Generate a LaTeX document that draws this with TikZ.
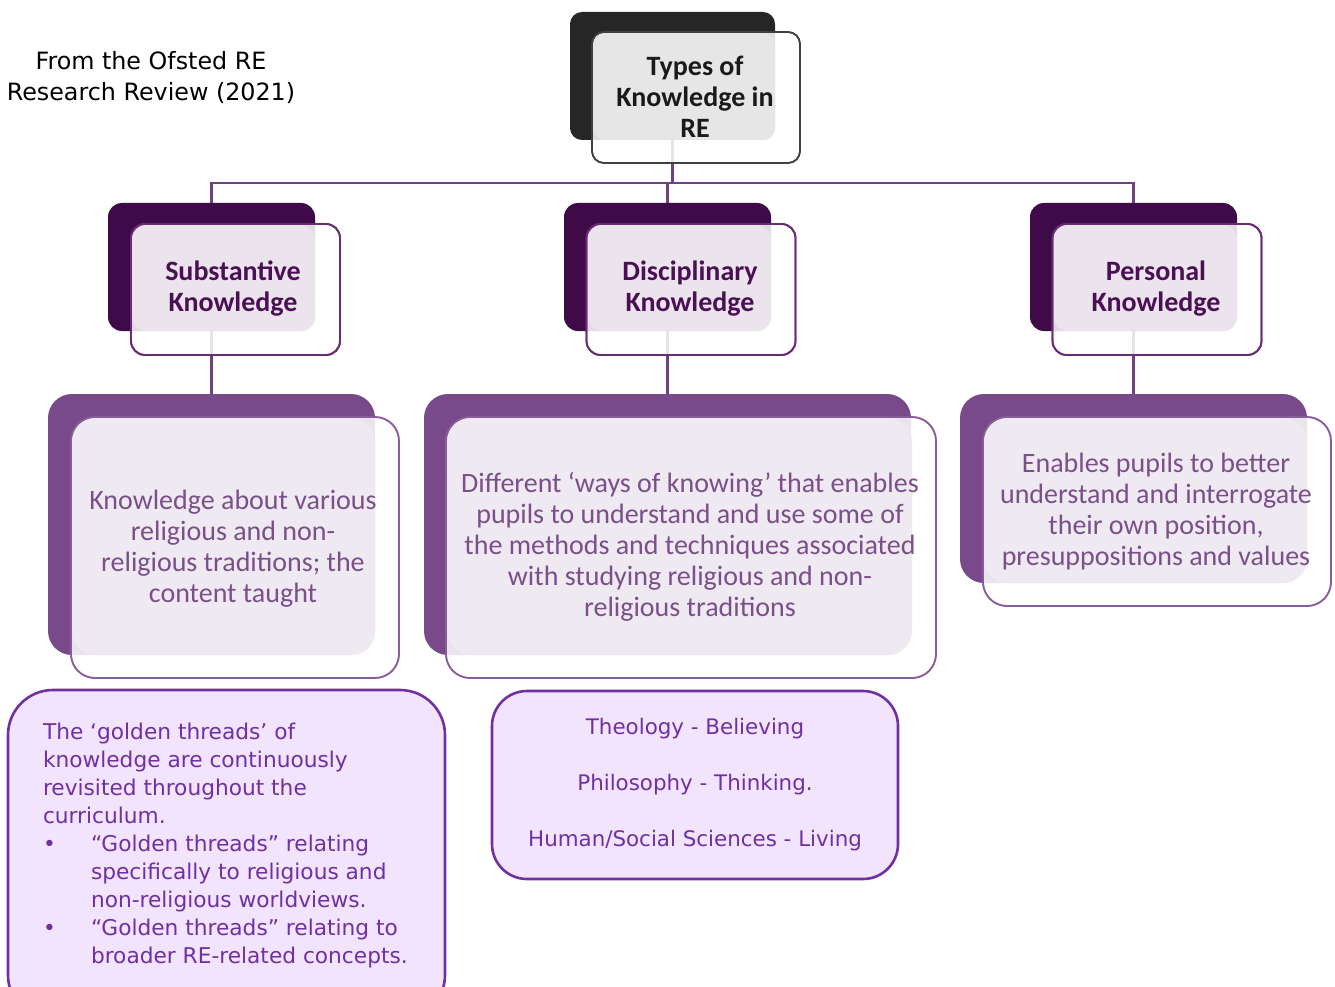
\documentclass[tikz,border=0pt]{standalone}
\usepackage{fontspec}
\setmainfont{Carlito}
\newfontfamily\tah{DejaVu Sans}
\definecolor{topdark}{HTML}{262626}
\definecolor{topgrey}{HTML}{E6E6E6}
\definecolor{topline}{HTML}{404040}
\definecolor{toptxt}{HTML}{1A1A1A}
\definecolor{ldark}{HTML}{3E0A47}
\definecolor{lfill}{HTML}{EBE4EC}
\definecolor{lline}{HTML}{6A2A74}
\definecolor{ltxt}{HTML}{4B0F55}
\definecolor{ddark}{HTML}{784A8A}
\definecolor{dfill}{HTML}{EFE9F2}
\definecolor{dline}{HTML}{8B5C9C}
\definecolor{dtxt}{HTML}{7A4F8A}
\definecolor{conncol}{HTML}{71407F}
\definecolor{bfill}{HTML}{F2E4FD}
\definecolor{bline}{HTML}{7030A0}
\pgfdeclarelayer{bg}
\pgfdeclarelayer{conns}
\pgfsetlayers{bg,conns,main}
\begin{document}
\begin{tikzpicture}[x=1pt,y=-1pt,
  every node/.style={inner sep=0pt, outer sep=0pt},
  conn/.style={draw=conncol, line width=2.8pt},
  topback/.style={fill=topdark, rounded corners=12pt},
  topfillbox/.style={fill=topgrey, rounded corners=12pt},
  topout/.style={draw=topline, line width=1.6pt, fill=white, fill opacity=0.85, draw opacity=1, rounded corners=12pt},
  ltwoback/.style={fill=ldark, rounded corners=14pt},
  ltwofill/.style={fill=lfill, rounded corners=14pt},
  ltwoout/.style={draw=lline, line width=1.8pt, fill=white, fill opacity=0.85, draw opacity=1, rounded corners=14pt},
  lthreeback/.style={fill=ddark, rounded corners=24pt},
  lthreefill/.style={fill=dfill, rounded corners=24pt},
  lthreeout/.style={draw=dline, line width=1.6pt, fill=white, fill opacity=0.85, draw opacity=1, rounded corners=24pt},
  toptext/.style={font=\fontsize{28}{31}\selectfont\bfseries, text=toptxt, align=center},
  ltwotext/.style={font=\fontsize{28}{31}\selectfont\bfseries, text=ltxt, align=center},
  lthreetext/.style={font=\fontsize{28}{31}\selectfont, text=dtxt, align=center},
  bottombox/.style={draw=bline, line width=2.6pt, fill=bfill},
  bottomtext/.style={font=\tah\fontsize{21.7}{28}\selectfont, text=bline}
]
\useasboundingbox (0,0) rectangle (1335,987);
\begin{pgfonlayer}{bg}
\fill[white] (0,0) rectangle (1335,987);
\end{pgfonlayer}

% title
\node[font=\tah\fontsize{23.8}{31}\selectfont, align=center] (title) at (151,78) {From the Ofsted RE\\Research Review (2021)};

% ---------- top box ----------
\node[topback, minimum width=205pt, minimum height=128pt] (tb) at (672.5,76) {};
\node[topout, minimum width=208pt, minimum height=131pt] (to) at (696,97.5) {};
\node[topfillbox, minimum width=182pt, minimum height=107pt] (tf) at (684,86.5) {};
\node[topout, fill=none, minimum width=208pt, minimum height=131pt] (to2) at (696,97.5) {};
\node[toptext] (tt) at (695,96.5) {Types of\\Knowledge in\\RE};

% ---------- level 2 ----------
\node[ltwoback, minimum width=207pt, minimum height=128pt] (sb) at (211.5,267) {};
\node[ltwoout, minimum width=209pt, minimum height=131pt] (so) at (235.5,289.5) {};
\node[ltwofill, minimum width=183pt, minimum height=106pt] (sf) at (223.5,278) {};
\node[ltwoout, fill=none, minimum width=209pt, minimum height=131pt] (so2) at (235.5,289.5) {};
\node[ltwotext] (st) at (233,289) {Substantive\\Knowledge};

\node[ltwoback, minimum width=207pt, minimum height=128pt] (db) at (667.5,267) {};
\node[ltwoout, minimum width=209pt, minimum height=131pt] (do) at (691,289.5) {};
\node[ltwofill, minimum width=183pt, minimum height=106pt] (df) at (679.5,278) {};
\node[ltwoout, fill=none, minimum width=209pt, minimum height=131pt] (do2) at (691,289.5) {};
\node[ltwotext] (dt) at (690,289) {Disciplinary\\Knowledge};

\node[ltwoback, minimum width=207pt, minimum height=128pt] (pb) at (1133.5,267) {};
\node[ltwoout, minimum width=209pt, minimum height=131pt] (po) at (1157,289.5) {};
\node[ltwofill, minimum width=183pt, minimum height=106pt] (pf) at (1145.5,278) {};
\node[ltwoout, fill=none, minimum width=209pt, minimum height=131pt] (po2) at (1157,289.5) {};
\node[ltwotext] (pt) at (1156,289) {Personal\\Knowledge};

% ---------- level 3 ----------
\node[lthreeback, minimum width=327pt, minimum height=261pt] (sd) at (211.5,524.5) {};
\node[lthreeout, minimum width=328pt, minimum height=261pt] (sdo) at (235,547.5) {};
\node[lthreefill, minimum width=303pt, minimum height=237pt] (sdf) at (223.5,536.5) {};
\node[lthreeout, fill=none, minimum width=328pt, minimum height=261pt] (sdo2) at (235,547.5) {};
\node[lthreetext] (sdt) at (233,549) {Knowledge about various\\religious and non-\\religious traditions; the\\content taught};

\node[lthreeback, minimum width=487pt, minimum height=261pt] (dd) at (667.5,524.5) {};
\node[lthreeout, minimum width=490pt, minimum height=261pt] (ddo) at (691,547.5) {};
\node[lthreefill, minimum width=465pt, minimum height=237pt] (ddf) at (679.5,536.5) {};
\node[lthreeout, fill=none, minimum width=490pt, minimum height=261pt] (ddo2) at (691,547.5) {};
\node[lthreetext] (ddt) at (690,546.5) {Different ‘ways of knowing’ that enables\\pupils to understand and use some of\\the methods and techniques associated\\with studying religious and non-\\religious traditions};

\node[lthreeback, minimum width=347pt, minimum height=189pt] (pd) at (1133.5,488.5) {};
\node[lthreeout, minimum width=348pt, minimum height=189pt] (pdo) at (1157,511.5) {};
\node[lthreefill, minimum width=323pt, minimum height=165pt] (pdf) at (1145.5,500.5) {};
\node[lthreeout, fill=none, minimum width=348pt, minimum height=189pt] (pdo2) at (1157,511.5) {};
\node[lthreetext] (pdt) at (1156,511.5) {Enables pupils to better\\understand and interrogate\\their own position,\\presuppositions and values};

% ---------- connectors ----------
\coordinate (bar) at (672.5,183);
\begin{pgfonlayer}{conns}
\draw[conn] (tb.south) -- (tb.south |- bar);
\draw[conn] (sb.north) |- (bar) -| (pb.north);
\draw[conn] (db.north) -- (db.north |- bar);
\draw[conn] (sb.south) -- (sd.north);
\draw[conn] (db.south) -- (dd.north);
\draw[conn] (pb.south) -- (pd.north);
\end{pgfonlayer}

% ---------- bottom boxes ----------
\begin{scope}
\clip (0,0) rectangle (1335,987);
\node[bottombox, rounded corners=45pt, minimum width=437pt, minimum height=330pt] (gb) at (226.5,855) {};
\end{scope}
\node[bottomtext, anchor=north west, align=left] (gt) at (43,723) {The ‘golden threads’ of\\knowledge are continuously\\revisited throughout the\\curriculum.\\\makebox[48pt][l]{•}“Golden threads” relating\\\hspace*{48pt}specifically to religious and\\\hspace*{48pt}non-religious worldviews.\\\makebox[48pt][l]{•}“Golden threads” relating to\\\hspace*{48pt}broader RE-related concepts.};

\node[bottombox, rounded corners=35pt, minimum width=406pt, minimum height=188pt] (mb) at (695,785) {};
\node[bottomtext, font=\tah\fontsize{21.4}{56}\selectfont, align=center] (mt) at (695,785) {Theology - Believing\\Philosophy - Thinking.\\Human/Social Sciences - Living};
\end{tikzpicture}
\end{document}
